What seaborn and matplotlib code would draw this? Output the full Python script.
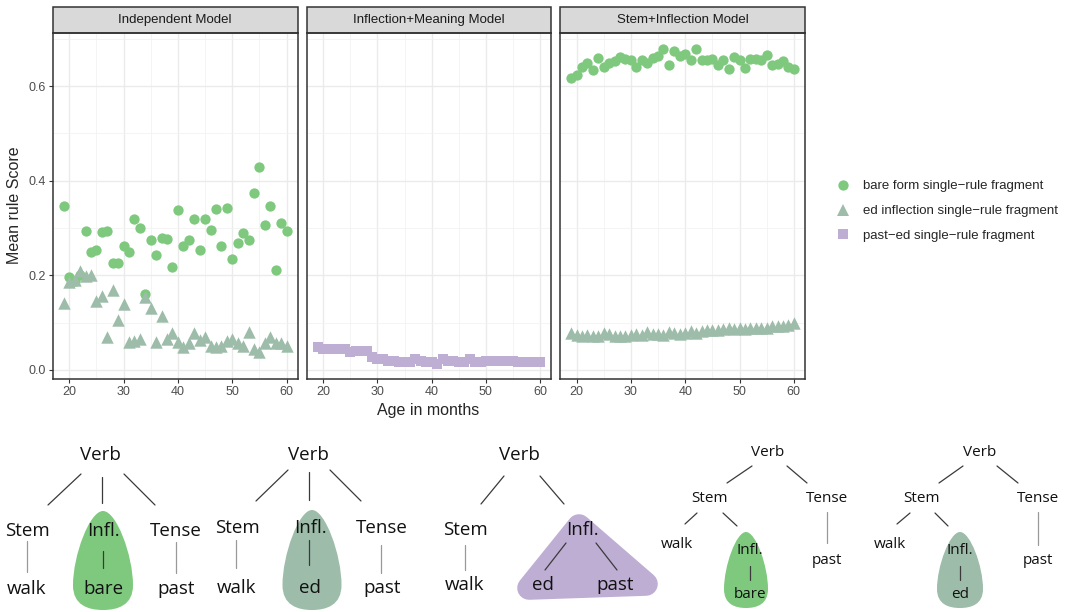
import numpy as np
import pandas as pd
import matplotlib
matplotlib.use("Agg")
import matplotlib.pyplot as plt
import seaborn as sns
from matplotlib.patches import Rectangle, PathPatch, Polygon
from matplotlib.path import Path
from matplotlib.lines import Line2D
from matplotlib.ticker import MultipleLocator

sns.set_style("white")
plt.rcParams['font.family'] = ['Liberation Sans', 'DejaVu Sans']

# ---- data ----
months = [19, 20, 21, 22, 23, 24, 25, 26, 27, 28, 29, 30, 31, 32, 33, 34, 35, 36, 37, 38, 39,
          40, 41, 42, 43, 44, 45, 46, 47, 48, 49, 50, 51, 52, 53, 54, 55, 56, 57, 58, 59, 60]

indep_bare = [0.347, 0.196, 0.189, 0.200, 0.293, 0.250, 0.253, 0.292, 0.294, 0.227, 0.227,
              0.261, 0.250, 0.319, 0.299, 0.161, 0.275, 0.242, 0.279, 0.277, 0.217,
              0.338, 0.263, 0.275, 0.319, 0.254, 0.318, 0.296, 0.340, 0.261, 0.342,
              0.235, 0.268, 0.289, 0.275, 0.374, 0.429, 0.306, 0.346, 0.211, 0.311, 0.293]
indep_ed = [0.141, 0.186, 0.190, 0.210, 0.199, 0.200, 0.146, 0.157, 0.069, 0.170, 0.106,
            0.139, 0.060, 0.062, 0.066, 0.155, 0.131, 0.060, 0.114, 0.066, 0.079,
            0.060, 0.048, 0.056, 0.079, 0.063, 0.070, 0.050, 0.048, 0.050, 0.062,
            0.066, 0.058, 0.050, 0.081, 0.044, 0.038, 0.056, 0.070, 0.056, 0.056, 0.050]
infmean_past_ed = [0.048, 0.044, 0.044, 0.044, 0.044, 0.044, 0.038, 0.041, 0.041, 0.041, 0.028,
                   0.023, 0.023, 0.020, 0.020, 0.016, 0.016, 0.016, 0.023, 0.018, 0.016,
                   0.016, 0.013, 0.023, 0.020, 0.020, 0.016, 0.016, 0.023, 0.017, 0.017,
                   0.018, 0.018, 0.018, 0.018, 0.018, 0.018, 0.017, 0.017, 0.017, 0.017, 0.017]
steminf_bare = [0.618, 0.623, 0.641, 0.649, 0.634, 0.659, 0.641, 0.648, 0.652, 0.662, 0.658,
                0.655, 0.641, 0.655, 0.649, 0.659, 0.663, 0.679, 0.644, 0.675, 0.663,
                0.668, 0.656, 0.679, 0.654, 0.655, 0.658, 0.645, 0.656, 0.637, 0.661,
                0.655, 0.638, 0.658, 0.658, 0.656, 0.665, 0.645, 0.646, 0.652, 0.641, 0.635]
steminf_ed = [0.078, 0.073, 0.071, 0.073, 0.072, 0.071, 0.079, 0.076, 0.072, 0.072, 0.072,
              0.074, 0.075, 0.073, 0.080, 0.076, 0.077, 0.073, 0.081, 0.078, 0.077,
              0.078, 0.082, 0.079, 0.083, 0.084, 0.085, 0.084, 0.087, 0.089, 0.086,
              0.088, 0.087, 0.089, 0.089, 0.088, 0.089, 0.092, 0.093, 0.093, 0.094, 0.100]

models = ["Independent Model", "Inflection+Meaning Model", "Stem+Inflection Model"]
fragments = ["bare form single\u2212rule fragment", "ed inflection single\u2212rule fragment",
             "past\u2212ed single\u2212rule fragment"]
colors = {fragments[0]: "#7fc97f", fragments[1]: "#9dbca9", fragments[2]: "#beaed4"}
markers = {fragments[0]: "o", fragments[1]: "^", fragments[2]: "s"}
sizes = {fragments[0]: 55, fragments[1]: 80, fragments[2]: 60}

rows = []
for model, frag, vals in [(models[0], fragments[0], indep_bare),
                          (models[0], fragments[1], indep_ed),
                          (models[1], fragments[2], infmean_past_ed),
                          (models[2], fragments[0], steminf_bare),
                          (models[2], fragments[1], steminf_ed)]:
    for m, v in zip(months, vals):
        rows.append({"model": model, "fragment": frag, "age": m, "score": v})
df = pd.DataFrame(rows)

W, H = 1071, 612
fig = plt.figure(figsize=(W / 100, H / 100), dpi=100)

panels = [(52.7, 297.7), (306.7, 551.3), (560, 805)]
top, bottom = 32.7, 379.3
strip_h = 26 / (bottom - top)

for i, (model, (l, r)) in enumerate(zip(models, panels)):
    ax = fig.add_axes([l / W, 1 - bottom / H, (r - l) / W, (bottom - top) / H])
    sub = df[df.model == model]
    for frag in fragments:
        d = sub[sub.fragment == frag]
        if len(d):
            sns.scatterplot(data=d, x="age", y="score", ax=ax, color=colors[frag],
                            marker=markers[frag], s=sizes[frag], linewidth=0, zorder=3)
    ax.set_xlim(16.95, 62.05)
    ax.set_ylim(-0.0197, 0.7127)
    ax.xaxis.set_major_locator(MultipleLocator(10))
    ax.xaxis.set_minor_locator(MultipleLocator(5))
    ax.yaxis.set_major_locator(MultipleLocator(0.2))
    ax.yaxis.set_minor_locator(MultipleLocator(0.1))
    ax.grid(which="major", color="#ebebeb", lw=1.0)
    ax.grid(which="minor", color="#f2f2f2", lw=0.6)
    ax.set_axisbelow(True)
    ax.set_xlabel("")
    ax.set_ylabel("")
    ax.tick_params(which="major", length=3, width=0.8, color="#333333",
                   labelsize=9, labelcolor="#4d4d4d", pad=2,
                   bottom=True, left=(i == 0))
    ax.tick_params(which="minor", length=0)
    ax.yaxis.set_major_formatter(matplotlib.ticker.FormatStrFormatter("%.1f"))
    if i > 0:
        ax.set_yticklabels([])
    for s in ax.spines.values():
        s.set_color("#333333")
        s.set_linewidth(1.1)
    ax.add_patch(Rectangle((0, 1), 1, strip_h, transform=ax.transAxes, clip_on=False,
                           facecolor="#d9d9d9", edgecolor="#333333", lw=1.1))
    ax.text(0.5, 1 + strip_h / 2, model, transform=ax.transAxes, ha="center",
            va="center", fontsize=9.5, color="#1a1a1a")

fig.text(15 / W, 1 - 205 / H, "Mean rule Score", rotation=90, ha="center",
         va="center", fontsize=11.5)
fig.text(428.5 / W, 1 - 411 / H, "Age in months", ha="center", va="center",
         fontsize=11.5)

handles = [Line2D([], [], ls="", marker=markers[f], color=colors[f],
                  markersize=np.sqrt(sizes[f]), markeredgewidth=0) for f in fragments]
fig.legend(handles, fragments, loc="center left", bbox_to_anchor=(836.4 / W, 1 - 211 / H),
           frameon=False, fontsize=9.5, handlelength=1.0, handletextpad=1.0,
           labelspacing=0.95, borderpad=0, borderaxespad=0)

# ---- tree diagrams underneath ----
ad = fig.add_axes([0, 0, 1, 1], zorder=-1)
ad.set_xlim(0, W)
ad.set_ylim(H, 0)
ad.axis("off")


def teardrop(cx, y0, y1, hw, color):
    h = y1 - y0
    verts = [(cx, y0),
             (cx + 0.45 * hw, y0), (cx + hw, y0 + 0.45 * h), (cx + hw, y0 + 0.75 * h),
             (cx + hw, y0 + 0.95 * h), (cx + 0.5 * hw, y1), (cx, y1),
             (cx - 0.5 * hw, y1), (cx - hw, y0 + 0.95 * h), (cx - hw, y0 + 0.75 * h),
             (cx - hw, y0 + 0.45 * h), (cx - 0.45 * hw, y0), (cx, y0)]
    codes = [Path.MOVETO] + [Path.CURVE4] * 12
    ad.add_patch(PathPatch(Path(verts, codes), facecolor=color, edgecolor="none"))


teardrop(103, 511, 610, 30, "#7fc97f")
teardrop(312, 510, 610, 29.5, "#9dbca9")
teardrop(746, 532, 608, 22, "#7fc97f")
teardrop(960, 532, 608, 23, "#9dbca9")
ad.add_patch(Polygon([(579, 526), (529, 588), (646, 584)], closed=True,
                     facecolor="#beaed4", edgecolor="#beaed4", lw=17, joinstyle="round"))

dark = [((81, 474), (48, 505)), ((101.7, 477), (101.7, 503)), ((124, 474), (155, 505)),
        ((103, 551), (103, 568)),
        ((288, 470), (256, 501)), ((309, 472), (309, 500)), ((330, 470), (361, 501)),
        ((309, 540), (309, 565)),
        ((504, 476), (481, 504)), ((540, 476), (564, 504)),
        ((566, 543), (545, 570)), ((596, 543), (617, 570)),
        ((752, 466), (727, 483)), ((787, 466), (807, 483)), ((697, 513), (685, 524)),
        ((723, 513), (737, 526)), ((750, 566), (750, 580)),
        ((963, 466), (939, 483)), ((997, 466), (1018, 483)), ((910, 513), (897, 524)),
        ((935, 513), (948, 526)), ((960, 566), (960, 580))]
light = [((27, 541), (27, 572)), ((176, 542), (176, 573)),
         ((236, 540), (236, 568)), ((381, 545), (381, 573)),
         ((465, 545), (465, 570)), ((827, 512), (827, 543)), ((1038, 512), (1038, 545))]
for (a, b) in dark:
    ad.plot([a[0], b[0]], [a[1], b[1]], color="#3a3a3a", lw=0.9)
for (a, b) in light:
    ad.plot([a[0], b[0]], [a[1], b[1]], color="#999999", lw=0.9)

big = [("Verb", 100, 455), ("Stem", 27, 531), ("Infl.", 103, 531), ("Tense", 176, 531),
       ("walk", 27, 589), ("bare", 103, 589), ("past", 176, 589),
       ("Verb", 308, 455), ("Stem", 237, 528), ("Infl.", 310, 528), ("Tense", 382, 528),
       ("walk", 237, 588), ("ed", 310, 588), ("past", 382, 588),
       ("Verb", 519, 455), ("Stem", 465, 530), ("Infl.", 582, 530),
       ("walk", 465, 585), ("ed", 543, 585), ("past", 615, 585)]
small = [("Verb", 768, 452), ("Stem", 709, 498), ("Tense", 827, 498), ("walk", 677, 544),
         ("Infl.", 750, 550), ("bare", 750, 595), ("past", 827, 560),
         ("Verb", 980, 452), ("Stem", 922, 498), ("Tense", 1038, 498), ("walk", 890, 544),
         ("Infl.", 960, 550), ("ed", 960, 595), ("past", 1038, 560)]
for t, x, y in big:
    ad.text(x, y, t, ha="center", va="center", fontsize=13.5, family="Open Sans",
            color="#111111")
for t, x, y in small:
    ad.text(x, y, t, ha="center", va="center", fontsize=11, family="Open Sans",
            color="#111111")

fig.savefig("out.png", dpi=100)
